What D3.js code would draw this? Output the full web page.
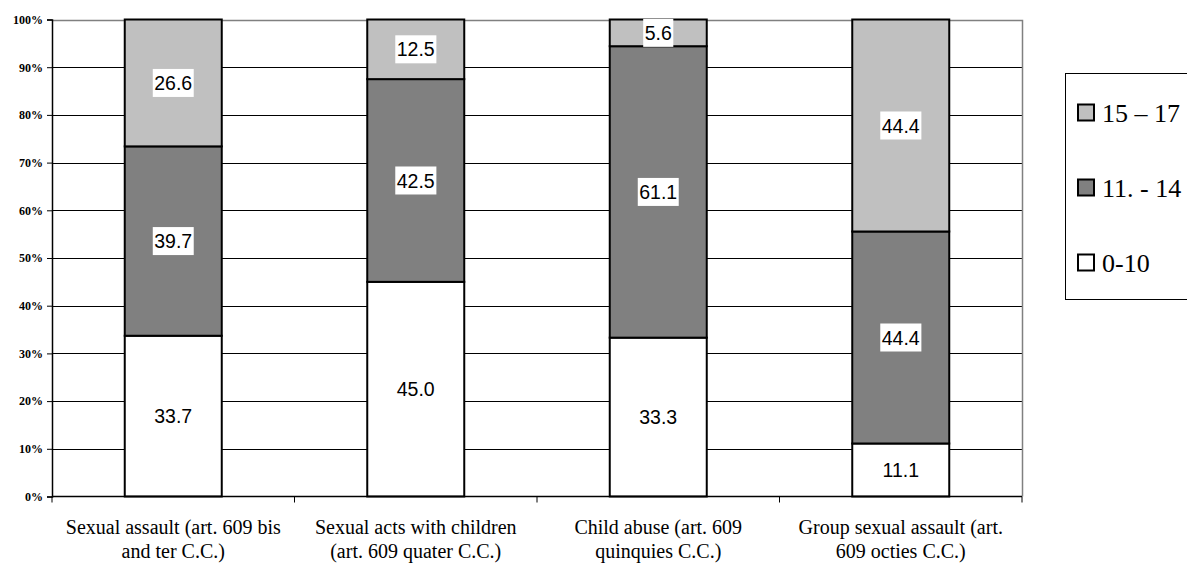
<!DOCTYPE html>
<html><head><meta charset="utf-8">
<script src="https://cdn.jsdelivr.net/npm/d3@7"></script>
<style>
body{margin:0;background:#fff;overflow:hidden}
.serif{font-family:'Liberation Serif','Times New Roman','DejaVu Serif',serif}
.sans{font-family:'Liberation Sans',Arial,sans-serif}
</style>
</head><body>
<svg id="c" width="1187" height="563"></svg>
<script>
const categories = [
  ["Sexual assault (art. 609 bis", "and ter C.C.)"],
  ["Sexual acts with children", "(art. 609 quater C.C.)"],
  ["Child abuse (art. 609", "quinquies C.C.)"],
  ["Group sexual assault (art.", "609 octies C.C.)"]
];
const seriesNames = ["0-10", "11. - 14", "15 – 17"];
const age0to10 = [33.7, 45.0, 33.3, 11.1];
const age11to14 = [39.7, 42.5, 61.1, 44.4];
const age15to17 = [26.6, 12.5, 5.6, 44.4];
const yTicks = [0, 10, 20, 30, 40, 50, 60, 70, 80, 90, 100];
const colors = ["#FFFFFF", "#808080", "#C0C0C0"];

const svg = d3.select("#c");
const L = 52, R = 1022, T = 19.5, B = 496.5;
const x = d3.scaleBand().domain(d3.range(categories.length)).range([L, R]).paddingInner(0.6).paddingOuter(0.3);
const xb = d3.scaleBand().domain(d3.range(categories.length)).range([L, R]);
const y = d3.scaleLinear().domain([0, 100]).range([B, T]);

// gridlines
svg.append("g").selectAll("line").data(yTicks.filter(d => d > 0 && d < 100)).join("line")
  .attr("x1", L).attr("x2", R).attr("y1", d => Math.round(y(d)) + 0.5).attr("y2", d => Math.round(y(d)) + 0.5)
  .attr("stroke", "#000").attr("stroke-width", 1);
// plot border top/right
svg.append("path").attr("d", `M${L},${Math.round(T)+0.5}H${R+0.5}V${B}`).attr("fill", "none").attr("stroke", "#808080").attr("stroke-width", 1.5);

// stacked data, normalized (100% stacked)
const series = [age0to10, age11to14, age15to17];
const rows = categories.map((c, i) => {
  const tot = series.reduce((s, a) => s + a[i], 0);
  let acc = 0;
  return series.map((a, k) => {
    const v0 = acc; acc += a[i] / tot * 100;
    return {i, k, v0, v1: acc, val: a[i]};
  });
}).flat();

const g = svg.append("g");
g.selectAll("rect").data(rows).join("rect")
  .attr("x", d => x(d.i)).attr("width", x.bandwidth())
  .attr("y", d => y(d.v1)).attr("height", d => y(d.v0) - y(d.v1))
  .attr("fill", d => colors[d.k]).attr("stroke", "#000").attr("stroke-width", 2);

// data labels
const lg = svg.append("g").attr("class", "sans").attr("font-size", 19.5);
rows.forEach(d => {
  const cx = x(d.i) + x.bandwidth() / 2, cy = (y(d.v0) + y(d.v1)) / 2;
  const t = d.val.toFixed(1);
  const tx = lg.append("text").attr("x", cx).attr("y", cy).attr("dy", "0.36em").attr("text-anchor", "middle").attr("fill", "#000").text(t);
  const bb = tx.node().getBBox();
  lg.insert("rect", () => tx.node()).attr("x", bb.x - 1.5).attr("y", cy - 14).attr("width", bb.width + 3).attr("height", 28).attr("fill", "#fff");
});

// y axis
const ya = svg.append("g").attr("transform", `translate(${L},0)`)
  .call(d3.axisLeft(y).tickValues(yTicks).tickFormat(d => d + "%").tickSize(5).tickPadding(4));
ya.attr("font-family", null);
ya.select(".domain").attr("stroke", "#000").attr("stroke-width", 1.5);
ya.selectAll(".tick line").attr("stroke", "#000");
ya.selectAll(".tick text").attr("class", "serif").attr("font-weight", "bold").attr("font-size", 12).attr("fill", "#000");

// x axis
const xa = svg.append("g").attr("transform", `translate(0,${B})`);
xa.append("line").attr("x1", L).attr("x2", R).attr("stroke", "#000").attr("stroke-width", 1.5);
xa.selectAll("line.t").data(d3.range(categories.length + 1)).join("line").attr("class", "t")
  .attr("x1", d => d < categories.length ? xb(d) : R).attr("x2", d => d < categories.length ? xb(d) : R)
  .attr("y1", 0).attr("y2", 6).attr("stroke", "#000");
const xl = xa.selectAll("text").data(categories).join("text")
  .attr("text-anchor", "middle").attr("class", "serif").attr("font-size", 20)
  .attr("fill", "#000");
xl.each(function(d, i) {
  const t = d3.select(this);
  d.forEach((line, j) => t.append("tspan").attr("x", xb(i) + xb.bandwidth() / 2).attr("y", 37.5 + j * 24).text(line));
});

// legend
const leg = svg.append("g");
leg.append("rect").attr("x", 1065.5).attr("y", 73.5).attr("width", 140).attr("height", 226).attr("fill", "#fff").attr("stroke", "#000").attr("stroke-width", 1);
const legOrder = [2, 1, 0];
legOrder.forEach((k, j) => {
  const cy = 112.5 + j * 75;
  leg.append("rect").attr("x", 1078).attr("y", cy - 8).attr("width", 16).attr("height", 16).attr("fill", colors[k]).attr("stroke", "#000").attr("stroke-width", 2);
  leg.append("text").attr("x", 1102).attr("y", cy).attr("dy", "0.35em").attr("class", "serif").attr("font-size", 26).attr("fill", "#000").text(seriesNames[k]);
});
</script>
</body></html>
